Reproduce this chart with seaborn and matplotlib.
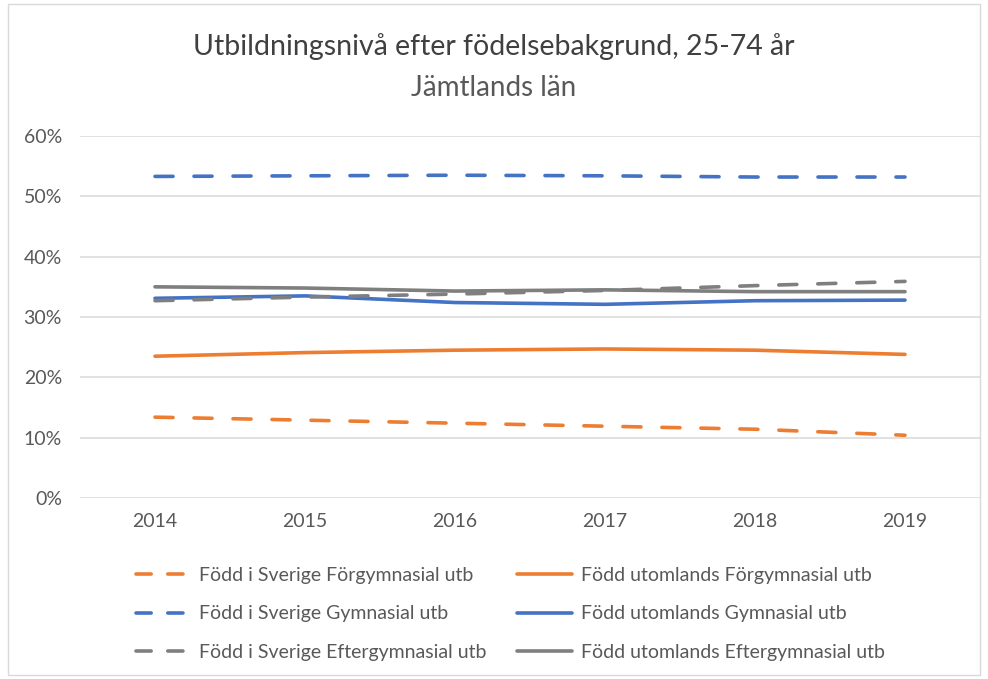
import numpy as np
import pandas as pd
import matplotlib
matplotlib.use("Agg")
import matplotlib.pyplot as plt
from matplotlib.lines import Line2D
from matplotlib.patches import Rectangle
import seaborn as sns

years = [2014, 2015, 2016, 2017, 2018, 2019]
series_names = [
    "Född i Sverige Förgymnasial utb",
    "Född utomlands Förgymnasial utb",
    "Född i Sverige Gymnasial utb",
    "Född utomlands Gymnasial utb",
    "Född i Sverige Eftergymnasial utb",
    "Född utomlands Eftergymnasial utb",
]
sv_forgym = [0.134, 0.129, 0.124, 0.119, 0.114, 0.104]
ut_forgym = [0.235, 0.241, 0.245, 0.247, 0.245, 0.238]
sv_gym = [0.533, 0.534, 0.535, 0.534, 0.532, 0.532]
ut_gym = [0.331, 0.335, 0.324, 0.321, 0.327, 0.328]
sv_efter = [0.327, 0.333, 0.338, 0.344, 0.352, 0.359]
ut_efter = [0.350, 0.348, 0.343, 0.345, 0.342, 0.342]
all_values = [sv_forgym, ut_forgym, sv_gym, ut_gym, sv_efter, ut_efter]

orange, blue, gray = "#ED7D31", "#4472C4", "#7F7F7F"
colors = [orange, orange, blue, blue, gray, gray]
dashed = [True, False, True, False, True, False]

rows = []
for name, vals in zip(series_names, all_values):
    for y, v in zip(years, vals):
        rows.append({"year": y, "value": v, "series": name})
df = pd.DataFrame(rows)

sns.set_theme(style="white")
plt.rcParams["font.family"] = ["Lato", "DejaVu Sans"]

fig = plt.figure(figsize=(9.88, 6.79), dpi=100)
ax = fig.add_axes([80 / 988, 1 - 498 / 679, 900 / 988, 362 / 679])

lw = 2.6
dash_pattern = (5.0, 5.8)
palette = dict(zip(series_names, colors))
dashes = {n: (dash_pattern if d else "") for n, d in zip(series_names, dashed)}

sns.lineplot(data=df, x="year", y="value", hue="series", style="series",
             palette=palette, dashes=dashes, linewidth=lw, ax=ax,
             legend=False, sort=False)
for line in ax.get_lines():
    line.set_solid_capstyle("round")
    line.set_dash_capstyle("round")

ax.set_xlim(2013.5, 2019.5)
ax.set_ylim(0, 0.6)
ax.set_yticks(np.arange(0, 0.61, 0.1))
ax.set_yticklabels([f"{int(round(t * 100))}%" for t in np.arange(0, 0.61, 0.1)])
ax.set_xticks(years)
ax.set_xticklabels([str(y) for y in years])
ax.tick_params(axis="both", labelsize=14, colors="#595959", length=0)
ax.tick_params(axis="y", pad=13)
ax.tick_params(axis="x", pad=11)
ax.grid(axis="y", color="#D9D9D9", linewidth=1.1)
ax.set_axisbelow(True)
for s in ax.spines.values():
    s.set_visible(False)
ax.set_xlabel("")
ax.set_ylabel("")

fig.text(0.5, 1 - 47 / 679, "Utbildningsnivå efter födelsebakgrund, 25-74 år",
         ha="center", va="center", fontsize=20.5, color="#404040")
fig.text(0.5, 1 - 88 / 679, "Jämtlands län", ha="center", va="center",
         fontsize=20, color="#595959")

order = [0, 2, 4, 1, 3, 5]
handles = []
labels = []
for i in order:
    h = Line2D([0], [0], color=colors[i], linewidth=lw,
               linestyle=(0, (4.2, 4.6)) if dashed[i] else "-",
               solid_capstyle="round", dash_capstyle="round")
    handles.append(h)
    labels.append(series_names[i])
leg = fig.legend(handles, labels, ncol=2, loc="center",
                 bbox_to_anchor=(510 / 988, 1 - 614 / 679), frameon=False,
                 fontsize=14, handlelength=2.8, handletextpad=0.45,
                 columnspacing=1.6, labelspacing=1.1)
for t in leg.get_texts():
    t.set_color("#595959")

fig.patches.append(Rectangle((8 / 988, 4 / 679), 972 / 988, 671 / 679,
                             transform=fig.transFigure, fill=False,
                             edgecolor="#D9D9D9", linewidth=1))

fig.savefig("out.png", dpi=100)
